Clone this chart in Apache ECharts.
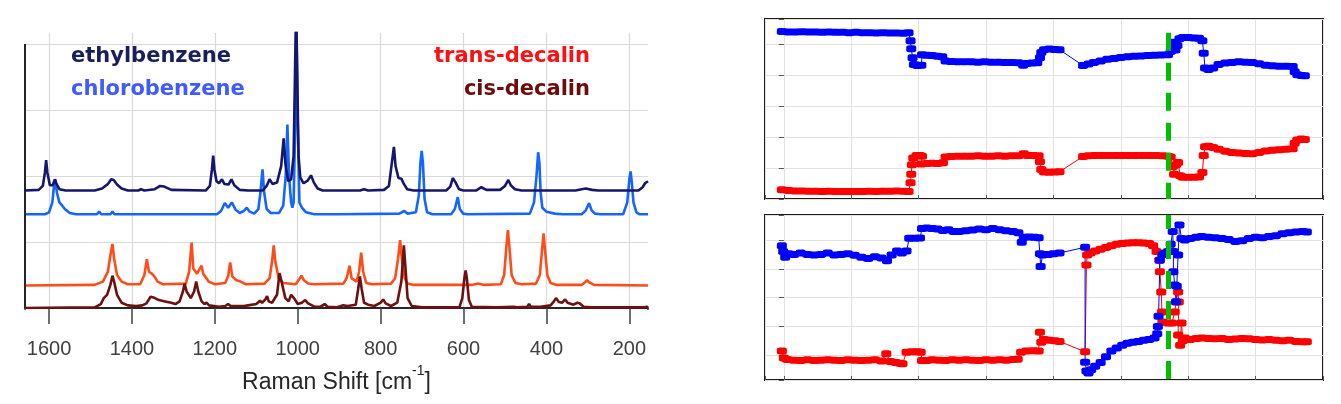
<!DOCTYPE html>
<html><head><meta charset="utf-8">
<script src="https://cdn.jsdelivr.net/npm/echarts@6/dist/echarts.min.js"></script>
<style>html,body{margin:0;padding:0;background:#fff}#c{width:1341px;height:404px}</style>
</head><body><div id="c"></div>
<script>
// ---------- data ----------
const ramanTicks = [200, 400, 600, 800, 1000, 1200, 1400, 1600];
const legendNames = ['ethylbenzene', 'chlorobenzene', 'trans-decalin', 'cis-decalin'];

const ethylbenzene = [[1658,1.78],[1625,1.79],[1615,1.85],[1610,2.05],[1607,2.24],[1604,2.05],[1598,1.86],[1591,1.86],[1586,1.95],[1582,1.88],[1575,1.80],[1560,1.78],[1490,1.78],[1472,1.81],[1458,1.88],[1450,1.95],[1444,1.94],[1436,1.87],[1425,1.81],[1410,1.78],[1385,1.78],[1378,1.80],[1370,1.78],[1345,1.80],[1332,1.85],[1322,1.84],[1305,1.79],[1222,1.78],[1212,1.85],[1207,2.10],[1204,2.31],[1201,2.10],[1196,1.92],[1190,1.89],[1183,1.95],[1177,1.88],[1167,1.87],[1160,1.95],[1153,1.86],[1140,1.79],[1120,1.78],[1085,1.78],[1075,1.85],[1068,1.95],[1061,1.88],[1050,1.90],[1040,2.15],[1034,2.57],[1030,2.20],[1023,1.92],[1016,1.95],[1010,2.3],[1007,3.4],[1004,4.6],[1001,3.4],[998,2.3],[994,1.98],[986,1.89],[976,1.93],[968,2.01],[961,1.90],[952,1.81],[940,1.78],[850,1.78],[840,1.80],[830,1.78],[792,1.79],[780,1.85],[773,2.20],[768,2.44],[764,2.15],[757,1.97],[750,1.96],[744,1.88],[736,1.80],[720,1.78],[642,1.78],[632,1.84],[626,1.97],[623,2.00],[619,1.90],[611,1.80],[600,1.78],[570,1.78],[557,1.83],[545,1.79],[512,1.79],[500,1.85],[492,1.94],[486,1.86],[476,1.80],[460,1.78],[330,1.78],[315,1.80],[305,1.81],[290,1.79],[275,1.78],[178,1.78],[168,1.83],[162,1.89],[158,1.92],[155,1.92]];

const chlorobenzene = [[1658,1.42],[1610,1.42],[1600,1.45],[1592,1.60],[1588,1.85],[1585,1.95],[1581,1.75],[1575,1.60],[1568,1.55],[1562,1.50],[1550,1.44],[1535,1.42],[1485,1.42],[1479,1.46],[1474,1.42],[1452,1.42],[1447,1.46],[1442,1.42],[1376,1.42],[1372,1.45],[1367,1.42],[1332,1.42],[1328,1.45],[1323,1.42],[1195,1.42],[1185,1.47],[1176,1.59],[1168,1.52],[1159,1.60],[1150,1.49],[1140,1.44],[1130,1.47],[1123,1.52],[1116,1.46],[1105,1.43],[1095,1.50],[1090,1.75],[1085,2.10],[1081,1.75],[1075,1.50],[1065,1.44],[1045,1.44],[1035,1.55],[1029,2.00],[1025,2.78],[1021,2.00],[1016,1.60],[1013,1.52],[1010,1.60],[1006,2.8],[1003,4.3],[1000,2.8],[996,1.60],[990,1.52],[980,1.45],[960,1.42],[945,1.42],[941,1.45],[935,1.42],[910,1.42],[906,1.44],[900,1.42],[755,1.43],[743,1.47],[735,1.43],[715,1.45],[708,1.70],[704,2.2],[701,2.38],[698,2.2],[694,1.65],[688,1.45],[675,1.42],[630,1.42],[621,1.50],[614,1.68],[609,1.50],[601,1.43],[590,1.42],[440,1.43],[430,1.60],[424,2.0],[420,2.36],[417,2.2],[414,1.75],[410,1.52],[400,1.46],[380,1.43],[360,1.42],[315,1.42],[305,1.48],[297,1.59],[291,1.48],[283,1.43],[270,1.42],[215,1.42],[205,1.60],[200,1.95],[197,2.07],[194,1.90],[190,1.60],[183,1.45],[175,1.42],[155,1.42]];

const transDecalin = [[1658,0.34],[1490,0.35],[1470,0.40],[1458,0.55],[1452,0.80],[1447,0.97],[1443,0.75],[1436,0.50],[1425,0.40],[1410,0.36],[1380,0.36],[1370,0.50],[1364,0.74],[1359,0.55],[1352,0.52],[1346,0.48],[1338,0.40],[1325,0.36],[1270,0.37],[1262,0.55],[1256,0.99],[1252,0.60],[1243,0.52],[1236,0.60],[1232,0.64],[1228,0.52],[1215,0.40],[1200,0.36],[1175,0.38],[1168,0.48],[1163,0.69],[1158,0.48],[1148,0.42],[1144,0.45],[1138,0.40],[1125,0.36],[1080,0.37],[1068,0.45],[1062,0.70],[1058,0.95],[1054,0.70],[1046,0.45],[1035,0.38],[1005,0.36],[996,0.44],[991,0.49],[985,0.42],[975,0.37],[960,0.36],[890,0.37],[882,0.45],[875,0.64],[870,0.45],[858,0.40],[852,0.55],[847,0.84],[842,0.55],[835,0.38],[820,0.36],[775,0.37],[765,0.45],[758,0.75],[753,1.03],[749,0.75],[742,0.45],[735,0.37],[720,0.35],[580,0.35],[565,0.37],[550,0.35],[510,0.36],[502,0.50],[497,0.90],[493,1.18],[489,0.90],[484,0.50],[475,0.38],[460,0.36],[425,0.37],[416,0.50],[411,0.85],[407,1.13],[403,0.85],[398,0.50],[390,0.38],[375,0.35],[315,0.35],[307,0.39],[302,0.42],[297,0.39],[285,0.35],[155,0.34]];

const cisDecalin = [[1658,0.0],[1490,0.01],[1475,0.06],[1468,0.15],[1460,0.20],[1452,0.35],[1447,0.49],[1443,0.40],[1436,0.20],[1425,0.08],[1410,0.04],[1390,0.03],[1375,0.04],[1365,0.07],[1355,0.17],[1348,0.16],[1335,0.12],[1320,0.10],[1305,0.08],[1295,0.06],[1285,0.10],[1277,0.25],[1273,0.37],[1268,0.25],[1258,0.15],[1250,0.25],[1245,0.40],[1240,0.25],[1232,0.10],[1225,0.06],[1220,0.08],[1214,0.04],[1190,0.02],[1175,0.03],[1168,0.06],[1162,0.03],[1130,0.03],[1120,0.04],[1100,0.06],[1091,0.11],[1086,0.08],[1078,0.13],[1074,0.18],[1070,0.10],[1062,0.08],[1050,0.20],[1044,0.53],[1039,0.40],[1030,0.15],[1022,0.10],[1016,0.20],[1013,0.23],[1009,0.15],[1000,0.06],[990,0.08],[982,0.12],[975,0.07],[960,0.02],[945,0.02],[935,0.06],[928,0.02],[905,0.01],[890,0.04],[880,0.03],[860,0.05],[854,0.30],[850,0.48],[846,0.30],[840,0.08],[830,0.05],[815,0.03],[800,0.08],[794,0.13],[788,0.07],[775,0.03],[760,0.08],[750,0.40],[744,0.95],[740,0.60],[735,0.15],[725,0.03],[700,0.01],[610,0.01],[603,0.15],[598,0.45],[595,0.57],[592,0.45],[587,0.12],[580,0.02],[520,0.01],[480,0.02],[470,0.01],[446,0.02],[442,0.06],[438,0.02],[421,0.02],[418,0.05],[414,0.02],[390,0.04],[382,0.10],[377,0.15],[370,0.09],[362,0.08],[355,0.13],[349,0.08],[335,0.05],[325,0.08],[320,0.07],[310,0.02],[290,0.01],[165,0.01],[158,0.02],[155,0.01]];

const topBlue = [[-0.03,5.40],[0.07,5.38],[0.17,5.38],[0.27,5.39],[0.37,5.38],[0.47,5.38],[0.57,5.37],[0.67,5.38],[0.77,5.37],[0.87,5.37],[0.97,5.36],[1.07,5.37],[1.17,5.36],[1.27,5.36],[1.37,5.35],[1.47,5.36],[1.57,5.35],[1.67,5.35],[1.77,5.34],[1.85,5.36],[1.88,5.10],[1.89,4.84],[1.91,4.55],[1.93,4.33],[1.98,4.30],[2.04,4.31],[2.05,4.65],[2.12,4.63],[2.20,4.62],[2.28,4.60],[2.35,4.58],[2.40,4.45],[2.48,4.43],[2.58,4.42],[2.68,4.42],[2.78,4.42],[2.88,4.41],[2.98,4.42],[3.08,4.41],[3.18,4.41],[3.28,4.40],[3.38,4.40],[3.48,4.39],[3.55,4.31],[3.60,4.37],[3.68,4.38],[3.76,4.39],[3.80,4.55],[3.82,4.72],[3.86,4.81],[3.94,4.83],[4.02,4.82],[4.09,4.81],[4.44,4.30],[4.52,4.35],[4.60,4.40],[4.70,4.45],[4.80,4.50],[4.90,4.53],[5.00,4.56],[5.10,4.58],[5.20,4.60],[5.30,4.61],[5.40,4.62],[5.50,4.63],[5.60,4.64],[5.70,4.65],[5.74,4.75],[5.76,5.05],[5.79,5.00],[5.81,4.80],[5.84,4.95],[5.87,5.16],[5.92,5.20],[6.00,5.20],[6.08,5.19],[6.16,5.18],[6.21,5.10],[6.23,4.70],[6.25,4.22],[6.30,4.17],[6.37,4.22],[6.45,4.33],[6.55,4.38],[6.65,4.40],[6.75,4.42],[6.85,4.41],[6.95,4.40],[7.05,4.36],[7.15,4.31],[7.25,4.29],[7.35,4.28],[7.45,4.28],[7.55,4.27],[7.58,4.10],[7.62,4.00],[7.68,3.98],[7.73,3.97]];

const topRed = [[-0.03,0.30],[0.07,0.27],[0.17,0.26],[0.27,0.26],[0.37,0.25],[0.47,0.25],[0.57,0.24],[0.67,0.25],[0.77,0.24],[0.87,0.24],[0.97,0.24],[1.07,0.24],[1.17,0.24],[1.27,0.25],[1.37,0.24],[1.47,0.25],[1.57,0.25],[1.67,0.26],[1.77,0.25],[1.85,0.24],[1.88,0.52],[1.89,0.80],[1.90,1.10],[1.92,1.32],[1.97,1.40],[2.02,1.40],[2.05,1.38],[2.04,1.13],[2.12,1.14],[2.20,1.15],[2.28,1.14],[2.36,1.17],[2.40,1.35],[2.48,1.37],[2.58,1.38],[2.68,1.38],[2.78,1.38],[2.88,1.39],[2.98,1.38],[3.08,1.38],[3.18,1.39],[3.28,1.38],[3.38,1.39],[3.48,1.39],[3.56,1.46],[3.62,1.40],[3.70,1.40],[3.78,1.39],[3.80,1.20],[3.82,0.95],[3.86,0.87],[3.94,0.86],[4.02,0.87],[4.09,0.88],[4.44,1.37],[4.52,1.39],[4.62,1.40],[4.72,1.40],[4.82,1.40],[4.92,1.40],[5.02,1.40],[5.12,1.40],[5.22,1.40],[5.32,1.40],[5.42,1.40],[5.52,1.40],[5.62,1.39],[5.70,1.38],[5.74,1.35],[5.77,1.05],[5.79,0.80],[5.82,1.10],[5.85,1.18],[5.88,0.75],[5.92,0.70],[6.00,0.70],[6.08,0.70],[6.16,0.71],[6.21,0.85],[6.23,1.40],[6.25,1.68],[6.30,1.70],[6.37,1.66],[6.45,1.60],[6.55,1.54],[6.65,1.50],[6.75,1.48],[6.85,1.47],[6.95,1.46],[7.05,1.50],[7.15,1.55],[7.25,1.57],[7.35,1.59],[7.45,1.60],[7.55,1.62],[7.58,1.80],[7.62,1.90],[7.68,1.93],[7.73,1.92]];

const bottomBlue = [[-0.03,4.80],[-0.01,4.60],[0.02,4.40],[0.07,4.52],[0.15,4.50],[0.25,4.55],[0.35,4.50],[0.45,4.48],[0.55,4.50],[0.65,4.55],[0.75,4.48],[0.85,4.50],[0.95,4.52],[1.05,4.47],[1.15,4.40],[1.25,4.36],[1.35,4.42],[1.45,4.38],[1.53,4.28],[1.60,4.48],[1.68,4.62],[1.75,4.55],[1.82,4.62],[1.86,5.06],[1.94,5.06],[2.02,5.07],[2.05,5.40],[2.12,5.42],[2.20,5.40],[2.28,5.38],[2.36,5.33],[2.44,5.36],[2.52,5.30],[2.60,5.30],[2.70,5.32],[2.80,5.35],[2.90,5.38],[3.00,5.36],[3.10,5.40],[3.20,5.36],[3.30,5.32],[3.40,5.30],[3.48,5.25],[3.53,4.92],[3.56,5.10],[3.64,5.11],[3.72,5.10],[3.78,5.08],[3.80,4.52],[3.81,4.08],[3.84,4.48],[3.92,4.50],[4.00,4.52],[4.09,4.55],[4.47,4.75],[4.47,0.76],[4.49,0.45],[4.52,0.38],[4.56,0.50],[4.62,0.62],[4.70,0.75],[4.78,0.95],[4.86,1.15],[4.94,1.25],[5.02,1.35],[5.10,1.42],[5.18,1.45],[5.26,1.48],[5.34,1.52],[5.42,1.55],[5.50,1.60],[5.54,1.75],[5.55,2.00],[5.56,2.35],[5.58,4.30],[5.62,4.50],[5.66,4.55],[5.70,4.60],[5.74,4.85],[5.77,5.30],[5.78,4.60],[5.78,3.90],[5.80,3.44],[5.82,2.86],[5.83,3.40],[5.85,4.48],[5.87,5.52],[5.90,5.05],[5.95,5.00],[6.03,5.05],[6.12,5.10],[6.20,5.12],[6.30,5.10],[6.40,5.08],[6.50,5.05],[6.60,5.02],[6.70,4.95],[6.80,4.98],[6.90,5.05],[7.00,5.10],[7.10,5.08],[7.20,5.12],[7.30,5.15],[7.40,5.22],[7.50,5.25],[7.60,5.28],[7.70,5.30],[7.76,5.28]];

const bottomRed = [[-0.03,1.15],[0.00,0.90],[0.05,0.85],[0.15,0.83],[0.25,0.82],[0.35,0.84],[0.45,0.82],[0.55,0.83],[0.65,0.84],[0.75,0.83],[0.85,0.82],[0.95,0.84],[1.05,0.83],[1.15,0.82],[1.25,0.83],[1.35,0.84],[1.45,0.80],[1.52,1.05],[1.58,0.78],[1.66,0.75],[1.72,0.72],[1.76,0.70],[1.82,1.10],[1.90,1.12],[1.98,1.12],[2.03,1.10],[2.05,0.82],[2.12,0.82],[2.20,0.84],[2.30,0.83],[2.40,0.82],[2.50,0.84],[2.60,0.83],[2.70,0.84],[2.80,0.83],[2.90,0.82],[3.00,0.84],[3.10,0.83],[3.20,0.84],[3.30,0.83],[3.40,0.85],[3.47,0.86],[3.52,1.10],[3.60,1.15],[3.70,1.16],[3.78,1.15],[3.80,1.80],[3.82,1.45],[3.86,1.55],[3.94,1.52],[4.02,1.50],[4.09,1.48],[4.47,1.12],[4.49,4.13],[4.50,4.48],[4.55,4.55],[4.62,4.62],[4.70,4.68],[4.78,4.74],[4.86,4.80],[4.94,4.85],[5.02,4.88],[5.10,4.90],[5.18,4.91],[5.26,4.91],[5.34,4.90],[5.42,4.88],[5.48,4.80],[5.53,4.60],[5.57,4.30],[5.58,3.90],[5.60,3.20],[5.61,2.50],[5.62,2.15],[5.70,2.12],[5.76,2.12],[5.80,2.50],[5.82,2.85],[5.85,3.20],[5.86,2.85],[5.85,1.70],[5.88,1.35],[5.90,2.12],[5.92,1.50],[5.95,1.60],[6.03,1.55],[6.12,1.58],[6.20,1.60],[6.30,1.58],[6.40,1.57],[6.50,1.58],[6.60,1.55],[6.70,1.56],[6.80,1.58],[6.90,1.57],[7.00,1.55],[7.10,1.53],[7.20,1.55],[7.30,1.52],[7.40,1.50],[7.50,1.52],[7.60,1.48],[7.70,1.47],[7.76,1.47]];

const markerX = 5.70;

// ---------- chart ----------
const chart = echarts.init(document.getElementById('c'), null, { renderer: 'canvas' });
const gridColor = '#dadada';
const legendFont = { fontFamily: 'DejaVu Sans', fontWeight: 'bold', fontSize: 21 };

function specSeries(data, color, z) {
  return { type: 'line', xAxisIndex: 0, yAxisIndex: 0, data: data, symbol: 'none', showSymbol: false,
    lineStyle: { width: 2.6, color: color }, itemStyle: { color: color }, z: z, silent: true, clip: true };
}
function dotSeries(data, color, gi, extra) {
  return Object.assign({ type: 'line', xAxisIndex: gi, yAxisIndex: gi, data: data, symbol: 'roundRect', symbolSize: [10, 7],
    showSymbol: true, showAllSymbol: true, lineStyle: { width: 1, color: color }, itemStyle: { color: color },
    silent: true, z: 3 }, extra || {});
}
function greenLine(y1, y2, offset) {
  return { symbol: ['none', 'none'], silent: true, label: { show: false }, z: 10,
    lineStyle: { color: '#00bf00', width: 5, type: [18, 12], dashOffset: offset },
    emphasis: { disabled: true },
    data: [[{ coord: [markerX, y1] }, { coord: [markerX, y2] }]] };
}

const rightX = (gi) => ({ gridIndex: gi, type: 'value', min: -0.28, max: 8, splitNumber: 8,
  axisLine: { show: false }, axisLabel: { show: false },
  axisTick: { show: true, inside: true, length: 4, lineStyle: { color: '#555', width: 1 } },
  splitLine: { show: true, lineStyle: { color: '#e2e2e2', width: 1 } } });

const option = {
  animation: false,
  backgroundColor: '#ffffff',
  title: [
    { text: legendNames[0], left: 71, top: 46, padding: 0, textStyle: Object.assign({ color: '#17205a' }, legendFont) },
    { text: legendNames[1], left: 71, top: 79, padding: 0, textStyle: Object.assign({ color: '#3f5bff' }, legendFont) },
    { text: legendNames[2], right: 751, top: 46, padding: 0, textStyle: Object.assign({ color: '#ff1010' }, legendFont) },
    { text: legendNames[3], right: 751, top: 79, padding: 0, textStyle: Object.assign({ color: '#6e0c0c' }, legendFont) }
  ],
  // white masks over the two extent ticks at the plot corners (the reference has ticks only at the labelled values)
  graphic: [
    { type: 'rect', left: 22, top: 310, shape: { width: 6, height: 18 }, style: { fill: '#fff' }, z: 100, silent: true },
    { type: 'rect', left: 645, top: 310, shape: { width: 6, height: 18 }, style: { fill: '#fff' }, z: 100, silent: true }
  ],
  grid: [
    { left: 25, right: 693, top: 33, bottom: 96 },
    { left: 765, right: 18, top: 19, height: 180, show: true, borderColor: '#1a1a1a', borderWidth: 2, backgroundColor: '#fff' },
    { left: 765, right: 18, top: 215, height: 165, show: true, borderColor: '#1a1a1a', borderWidth: 2, backgroundColor: '#fff' }
  ],
  xAxis: [
    { gridIndex: 0, type: 'value', min: 155, max: 1658, inverse: true, splitNumber: 7,
      axisLine: { show: true, lineStyle: { color: '#262626', width: 2 } },
      axisTick: { show: true, length: 16, lineStyle: { color: '#404040', width: 1.5 } },
      axisLabel: { customValues: ramanTicks, margin: 31, formatter: (v) => String(v),
        fontFamily: 'Liberation Sans', fontSize: 20, color: '#404040' },
      splitLine: { show: true, showMinLine: false, showMaxLine: false, lineStyle: { color: gridColor, width: 1.2 } },
      name: '{a|Raman Shift [cm}{s|-1}{a|]}', nameLocation: 'middle', nameGap: 46,
      nameTextStyle: { rich: {
        a: { fontFamily: 'Liberation Sans', fontSize: 23, color: '#262626', lineHeight: 30, verticalAlign: 'bottom' },
        s: { fontFamily: 'Liberation Sans', fontSize: 14, color: '#262626', lineHeight: 18, verticalAlign: 'top' } } } },
    rightX(1), rightX(2)
  ],
  yAxis: [
    { gridIndex: 0, type: 'value', min: 0, max: 4.167, interval: 1,
      axisLine: { show: false }, axisTick: { show: false }, axisLabel: { show: false },
      splitLine: { show: true, showMaxLine: false, lineStyle: { color: gridColor, width: 1.2 } } },
    { gridIndex: 1, type: 'value', position: 'right', min: 0, max: 5.8, interval: 1,
      axisLine: { show: false }, axisLabel: { show: false },
      axisTick: { show: true, inside: true, length: 5, lineStyle: { color: '#555', width: 1 } },
      splitLine: { show: true, lineStyle: { color: '#e2e2e2', width: 1 } } },
    { gridIndex: 2, type: 'value', position: 'right', min: 0.14, max: 5.87, splitNumber: 5,
      axisLine: { show: false }, axisLabel: { show: false },
      axisTick: { show: true, inside: true, length: 5, lineStyle: { color: '#555', width: 1 } },
      splitLine: { show: true, lineStyle: { color: '#e2e2e2', width: 1 } } }
  ],
  series: [
    specSeries(transDecalin, '#ff4d1a', 2),
    specSeries(cisDecalin, '#6e1010', 3),
    specSeries(chlorobenzene, '#1565ff', 4),
    Object.assign(specSeries(ethylbenzene, '#16166e', 5), {
      markLine: { symbol: ['none', 'none'], silent: true, label: { show: false },
        lineStyle: { color: '#262626', width: 2, type: 'solid' }, emphasis: { disabled: true },
        data: [[{ coord: [1658, 0] }, { coord: [1658, 4] }]] } }),
    dotSeries(topRed, '#ff0000', 1),
    dotSeries(topBlue, '#0000ff', 1, { markLine: greenLine(5.36, 0, 0) }),
    dotSeries(bottomRed, '#ff0000', 2),
    dotSeries(bottomBlue, '#0000ff', 2, { markLine: greenLine(5.87, 0.14, 4) })
  ]
};
chart.setOption(option);
</script></body></html>
